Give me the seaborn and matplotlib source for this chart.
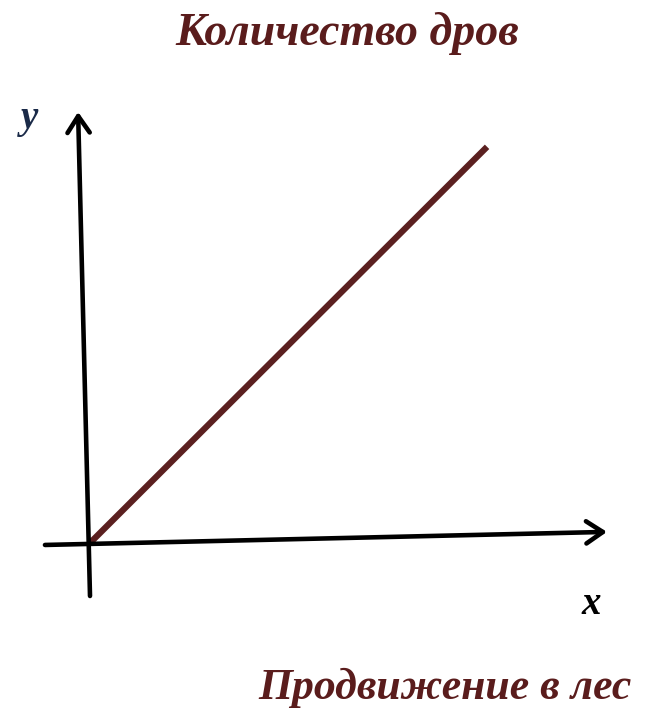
import numpy as np
import pandas as pd
import matplotlib
matplotlib.use("Agg")
import matplotlib.pyplot as plt
import seaborn as sns

#------------data: firewood grows with the way into the forest
progress = [0.0, 1.0]
wood = [0.0, 1.0]
title_text = "Количество дров"
xlabel_text = "Продвижение в лес"

df = pd.DataFrame({"progress": progress, "wood": wood})

sns.set_style("white")
plt.rcParams["font.family"] = ["Liberation Serif", "DejaVu Serif"]

fig = plt.figure(figsize=(6.48, 7.09), dpi=100)
ax = fig.add_axes([0.0694, 0.1594, 0.8673, 0.6827])

#------------the line itself
sns.lineplot(data=df, x="progress", y="wood", color="#5b2020", linewidth=4.5, ax=ax,
             solid_capstyle="butt")

ax.set_xlim(-0.1134, 1.302)
ax.set_ylim(-0.1338, 1.088)
ax.axis("off")

#------------hand drawn looking axes with arrows
arrow = dict(arrowstyle="->,head_length=0.6,head_width=0.4", color="black",
             lw=3.3, mutation_scale=20, shrinkA=0, shrinkB=0)
ax.annotate("", xy=(1.302, 0.028), xytext=(-0.1134, -0.005), arrowprops=arrow)
ax.annotate("", xy=(-0.03, 1.088), xytext=(0.0, -0.1338), arrowprops=arrow)

#------------texts
tstyle = dict(fontweight="bold", fontstyle="italic")
fig.text(0.536, 0.953, title_text, ha="center", va="center", fontsize=33,
         color="#5a1c1c", **tstyle)
fig.text(0.686, 0.030, xlabel_text, ha="center", va="center", fontsize=31.5,
         color="#5a1c1c", **tstyle)
fig.text(0.046, 0.833, "y", ha="center", va="center", fontsize=28,
         color="#1a2a48", **tstyle)
fig.text(0.912, 0.147, "x", ha="center", va="center", fontsize=28,
         color="black", **tstyle)

fig.savefig("out.png", dpi=100)
